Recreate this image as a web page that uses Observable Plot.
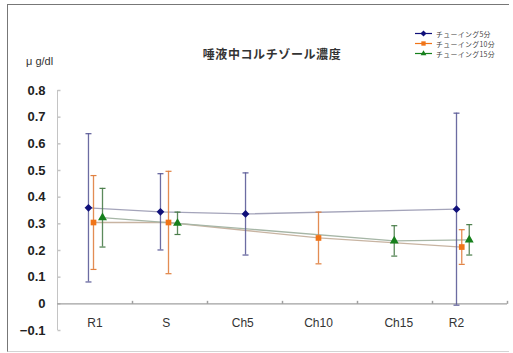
<!DOCTYPE html>
<html>
<head>
<meta charset="utf-8">
<script src="https://cdn.jsdelivr.net/npm/d3@7"></script>
<script src="https://cdn.jsdelivr.net/npm/@observablehq/plot@0.6"></script>
<style>
  html, body { margin: 0; padding: 0; background: #fff; }
  #wrap { position: relative; width: 513px; height: 353px; overflow: hidden;
          font-family: "Liberation Sans", Arial, "Noto Sans CJK JP", sans-serif; }
  #frame { position: absolute; left: 7px; top: 4px; width: 501px; height: 346px;
           border-left: 1px solid #777; border-top: 1px solid #777; border-bottom: 1px solid #d4d4d4; }
  #chart { position: absolute; left: 0; top: 0; }
  #title { position: absolute; left: 0; width: 544px; top: 46px; text-align: center;
           font-family: "Noto Sans CJK JP", sans-serif; font-size: 12px; font-weight: 700;
           color: #333; letter-spacing: 0.6px; line-height: 16px; }
  #unit { position: absolute; left: 26px; top: 55px; font-size: 11px; color: #333; line-height: 13px; }
  #legend { position: absolute; left: 414px; top: 28.5px; font-size: 6.9px; color: #444;
            font-family: "Noto Sans CJK JP", sans-serif; letter-spacing: 0.35px; }
  #legend .row { display: flex; align-items: center; height: 10px; }
  #legend span { line-height: 10px; display: inline-block; height: 10px; }
  #legend svg { margin-right: 3px; }
</style>
</head>
<body>
<div id="wrap">
  <div id="frame"></div>
  <div id="chart"></div>
  <div id="title">唾液中コルチゾール濃度</div>
  <div id="unit">μ g/dl</div>
  <div id="legend"></div>
</div>
<script>
// ---- data ----
const categories = ["R1", "S", "Ch5", "Ch10", "Ch15", "R2"];
const labelPos = [0, 0.95, 1.97, 2.98, 4.05, 4.82];
const yTicks = [-0.1, 0, 0.1, 0.2, 0.3, 0.4, 0.5, 0.6, 0.7, 0.8];
const seriesNames = ["チューイング5分", "チューイング10分", "チューイング15分"];

const s5Cat = ["R1", "S", "Ch5", "R2"];
const s5Pos = [-0.087, 0.873, 2.007, 4.82];
const s5Mean = [0.36, 0.345, 0.337, 0.355];
const s5Sd = [0.278, 0.143, 0.154, 0.36];

const s10Cat = ["R1", "S", "Ch10", "R2"];
const s10Pos = [-0.02, 0.98, 2.98, 4.89];
const s10Mean = [0.305, 0.305, 0.247, 0.213];
const s10Sd = [0.176, 0.192, 0.097, 0.065];

const s15Cat = ["R1", "S", "Ch15", "R2"];
const s15Pos = [0.1, 1.1, 3.99, 4.99];
const s15Mean = [0.323, 0.302, 0.236, 0.24];
const s15Sd = [0.11, 0.042, 0.057, 0.057];

// ---- build tables ----
function rows(name, cats, pos, mean, sd) {
  return cats.map((c, i) => ({series: name, cat: c, x: pos[i], y: mean[i],
                              lo: mean[i] - sd[i], hi: mean[i] + sd[i]}));
}
const d5 = rows(seriesNames[0], s5Cat, s5Pos, s5Mean, s5Sd);
const d10 = rows(seriesNames[1], s10Cat, s10Pos, s10Mean, s10Sd);
const d15 = rows(seriesNames[2], s15Cat, s15Pos, s15Mean, s15Sd);

const boundaries = d3.range(0.5, categories.length, 1);

// custom symbols (pixel-sized)
const capSym = {draw(ctx, size) { const r = Math.sqrt(size / Math.PI); ctx.moveTo(-r, 0); ctx.lineTo(r, 0); }};
const rightTick = {draw(ctx, size) { const r = Math.sqrt(size / Math.PI); ctx.moveTo(0, 0); ctx.lineTo(r, 0); }};
const upTick = {draw(ctx, size) { const r = Math.sqrt(size / Math.PI); ctx.moveTo(0, 0); ctx.lineTo(0, -r); }};

const styles = [
  {data: d5, marker: "#10107a", bar: "#5c5c98", line: "#a4a4ba", symbol: "diamond2", r: 3.5},
  {data: d10, marker: "#f07418", bar: "#e08040", line: "#c8b4a2", symbol: "square", r: 3.2},
  {data: d15, marker: "#16801c", bar: "#4a7d4a", line: "#a6b6a6", symbol: "triangle", r: 3.3}
];

const marks = [
  Plot.ruleX([-0.5], {y1: -0.1, y2: 0.8, stroke: "#c4c4c4"}),
  Plot.dot(yTicks, {x: -0.5, y: d => d, symbol: rightTick, r: 3, stroke: "#c4c4c4", fill: "none"}),
  Plot.ruleY([0], {stroke: "#a0a0a0", strokeWidth: 1.2}),
  Plot.dot(boundaries, {x: d => d, y: 0, symbol: upTick, r: 3, stroke: "#a0a0a0", fill: "none"}),
  Plot.axisY({ticks: yTicks, tickSize: 0, tickPadding: 12, label: null,
              tickFormat: d => d === 0 ? "0" : (d < 0 ? "−" : "") + Math.abs(d).toFixed(1),
              fontSize: 13, fontWeight: "bold", fill: "#222"}),
  Plot.text(categories, {x: (d, i) => labelPos[i], text: d => d, frameAnchor: "bottom", dy: -4,
                         fontSize: 12, fill: "#333"})
];
for (const s of styles) {
  marks.push(Plot.line(s.data, {x: "x", y: "y", stroke: s.line, strokeWidth: 1.3}));
}
for (const s of styles) {
  marks.push(Plot.ruleX(s.data, {x: "x", y1: "lo", y2: "hi", stroke: s.bar, strokeWidth: 1.3, strokeOpacity: 0.9}));
  marks.push(Plot.dot(s.data, {x: "x", y: "lo", symbol: capSym, r: 3, stroke: s.bar, fill: "none", strokeWidth: 1.2}));
  marks.push(Plot.dot(s.data, {x: "x", y: "hi", symbol: capSym, r: 3, stroke: s.bar, fill: "none", strokeWidth: 1.2}));
  marks.push(Plot.dot(s.data, {x: "x", y: "y", symbol: s.symbol, r: s.r, fill: s.marker, stroke: "none"}));
}

const chart = Plot.plot({
  width: 513, height: 353,
  marginLeft: 57, marginRight: 6, marginTop: 90, marginBottom: 23,
  x: {type: "linear", domain: [-0.5, 5.5], axis: null},
  y: {domain: [-0.1, 0.8], axis: null},
  style: {fontFamily: "'Liberation Sans', Arial, sans-serif", background: "transparent", overflow: "visible"},
  marks
});
document.getElementById("chart").appendChild(chart);

// legend
const legend = d3.select("#legend");
const symMap = {diamond2: d3.symbolDiamond2, square: d3.symbolSquare2, triangle: d3.symbolTriangle2};
styles.forEach((s, i) => {
  const row = legend.append("div").attr("class", "row");
  const svg = row.append("svg").attr("width", 19).attr("height", 9);
  svg.append("line").attr("x1", 1).attr("x2", 18).attr("y1", 4.5).attr("y2", 4.5)
     .attr("stroke", i === 0 ? "#10107a" : s.marker).attr("stroke-width", 1.2);
  svg.append("path").attr("transform", "translate(9.5,4.5)")
     .attr("d", d3.symbol(symMap[s.symbol], 24)()).attr("fill", s.marker);
  row.append("span").text(seriesNames[i]);
});
</script>
</body>
</html>
